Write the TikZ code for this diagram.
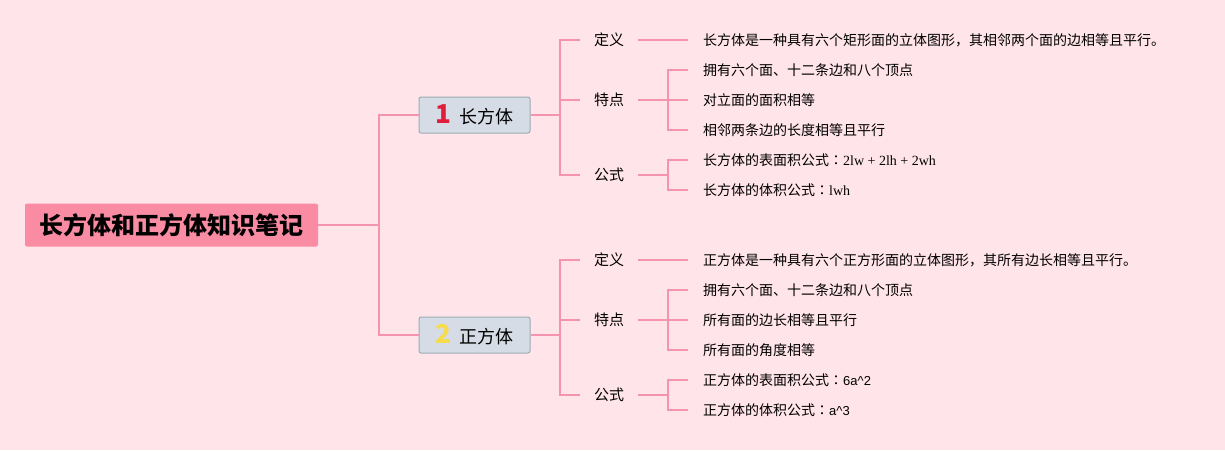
\documentclass[tikz,border=0pt]{standalone}
\usepackage{fontspec}
\setmainfont{Noto Sans CJK SC}
\newfontfamily\tcfont{Noto Sans CJK TC}
\newfontfamily\latinserif{Liberation Serif}
\newfontfamily\latinsans{Liberation Sans}
\definecolor{bgpink}{HTML}{FFE4EA}
\definecolor{linkpink}{HTML}{F494AE}
\definecolor{rootpink}{HTML}{F98BA3}
\definecolor{topicfill}{HTML}{D5DCE6}
\definecolor{topicedge}{HTML}{9DADB3}
\definecolor{numred}{HTML}{E01E3C}
\definecolor{numyellow}{HTML}{F6DB4C}
\tikzset{
  rootbox/.style={fill=rootpink, rounded corners=2pt, minimum width=293pt,
    minimum height=43pt, inner sep=0pt, font=\fontsize{24}{28}\selectfont\bfseries},
  topicbox/.style={fill=topicfill, draw=topicedge, line width=1pt, rounded corners=2pt,
    minimum width=111pt, minimum height=36pt, inner sep=0pt, font=\fontsize{18}{22}\selectfont},
  label/.style={minimum width=58pt, inner sep=0pt, font=\fontsize{15}{18}\selectfont},
  leaf/.style={anchor=west, inner xsep=15pt, inner ysep=0pt, font=\fontsize{14}{17}\selectfont},
  link/.style={draw=linkpink, line width=1.6pt}
}
\newcommand{\topicnum}[2]{{\fontsize{26}{26}\selectfont\bfseries\color{#1}#2}\hspace{9pt}}
\newcommand{\fullcolon}{{\tcfont ：}}
\begin{document}
\begin{tikzpicture}[x=1pt, y=-1pt]
  \fill[bgpink] (0,0) rectangle (1225,450);
  \useasboundingbox (0,0) rectangle (1225,450);

  \draw
    (171.5,225) node[rootbox] (root){长方体和正方体知识笔记}
    (474.5,115) node[topicbox] (cub){\topicnum{numred}{1}长方体}
    (474.5,335) node[topicbox] (sq){\topicnum{numyellow}{2}正方体};

  % cuboid branch
  \draw
    (609,40) node[label] (cdef){定义}
    (609,100) node[label] (cfeat){特点}
    (609,175) node[label] (cform){公式}
    (688,40) node[leaf] (cdef1){长方体是一种具有六个矩形面的立体图形，其相邻两个面的边相等且平行。}
    (688,70) node[leaf] (cfeat1){拥有六个面、十二条边和八个顶点}
    (688,100) node[leaf] (cfeat2){对立面的面积相等}
    (688,130) node[leaf] (cfeat3){相邻两条边的长度相等且平行}
    (688,160) node[leaf] (cform1){长方体的表面积公式\fullcolon{\latinserif 2lw + 2lh + 2wh}}
    (688,190) node[leaf] (cform2){长方体的体积公式\fullcolon{\latinserif lwh}};

  % cube branch
  \draw
    (609,260) node[label] (sdef){定义}
    (609,320) node[label] (sfeat){特点}
    (609,395) node[label] (sform){公式}
    (688,260) node[leaf] (sdef1){正方体是一种具有六个正方形面的立体图形，其所有边长相等且平行。}
    (688,290) node[leaf] (sfeat1){拥有六个面、十二条边和八个顶点}
    (688,320) node[leaf] (sfeat2){所有面的边长相等且平行}
    (688,350) node[leaf] (sfeat3){所有面的角度相等}
    (688,380) node[leaf] (sform1){正方体的表面积公式\fullcolon{\latinsans\fontsize{13}{16}\selectfont 6a\textasciicircum2}}
    (688,410) node[leaf] (sform2){正方体的体积公式\fullcolon{\latinsans\fontsize{13}{16}\selectfont a\textasciicircum3}};

  \coordinate (rj) at (379,225);
  \coordinate (cj) at (560,115);
  \coordinate (sj) at (560,335);
  \coordinate (cfj) at (668,100);
  \coordinate (cmj) at (668,175);
  \coordinate (sfj) at (668,320);
  \coordinate (smj) at (668,395);

  \begin{scope}[link]
    \draw (root.east) -- (rj);
    \draw (rj) |- (cub.west);
    \draw (rj) |- (sq.west);
    \draw (cub.east) -- (cj);
    \draw (cj) |- (cdef.west);
    \draw (cj) |- (cfeat.west);
    \draw (cj) |- (cform.west);
    \draw (sq.east) -- (sj);
    \draw (sj) |- (sdef.west);
    \draw (sj) |- (sfeat.west);
    \draw (sj) |- (sform.west);
    \draw (cdef.east) -- (cdef1.west);
    \draw (cfeat.east) -- (cfj);
    \draw (cfj) |- (cfeat1.west);
    \draw (cfj) |- (cfeat2.west);
    \draw (cfj) |- (cfeat3.west);
    \draw (cform.east) -- (cmj);
    \draw (cmj) |- (cform1.west);
    \draw (cmj) |- (cform2.west);
    \draw (sdef.east) -- (sdef1.west);
    \draw (sfeat.east) -- (sfj);
    \draw (sfj) |- (sfeat1.west);
    \draw (sfj) |- (sfeat2.west);
    \draw (sfj) |- (sfeat3.west);
    \draw (sform.east) -- (smj);
    \draw (smj) |- (sform1.west);
    \draw (smj) |- (sform2.west);
  \end{scope}
\end{tikzpicture}
\end{document}
